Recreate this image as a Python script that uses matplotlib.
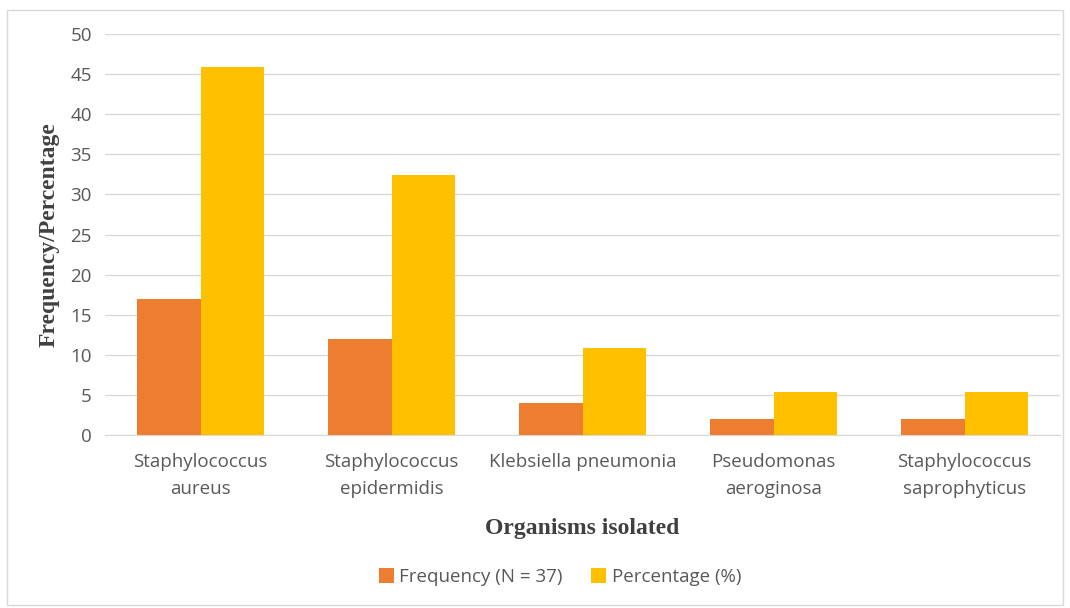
import matplotlib
matplotlib.use("Agg")
import matplotlib.pyplot as plt
from matplotlib.patches import Rectangle
import numpy as np

categories = ["Staphylococcus\naureus", "Staphylococcus\nepidermidis", "Klebsiella pneumonia",
              "Pseudomonas\naeroginosa", "Staphylococcus\nsaprophyticus"]
frequency = [17, 12, 4, 2, 2]
percentage = [45.9, 32.4, 10.8, 5.4, 5.4]
series_names = ["Frequency (N = 37)", "Percentage (%)"]
yticks = list(range(0, 55, 5))

plt.rcParams['font.family'] = ['Open Sans', 'DejaVu Sans']

fig = plt.figure(figsize=(10.7, 6.08), dpi=100)
fig.patches.append(Rectangle((7/1070, 3/608), 1056/1070, 595/608, transform=fig.transFigure,
                             fill=False, edgecolor='#d9d9d9', linewidth=1))
ax = fig.add_axes([105/1070, 1 - 435/608, (1060-105)/1070, (435-34)/608])

x = np.arange(len(categories))
w = 0.33
ax.bar(x - w/2, frequency, width=w, color='#ed7d31', label=series_names[0], zorder=3)
ax.bar(x + w/2, percentage, width=w, color='#ffc000', label=series_names[1], zorder=3)

ax.set_xlim(-0.5, len(categories) - 0.5)
ax.set_ylim(0, 50)
ax.set_yticks(yticks)
ax.yaxis.grid(True, color='#d9d9d9', linewidth=1, zorder=0)
ax.set_axisbelow(True)
for s in ['top', 'right', 'left']:
    ax.spines[s].set_visible(False)
ax.spines['bottom'].set_color('#d9d9d9')
ax.tick_params(axis='both', length=0, colors='#595959', labelsize=13.5)
ax.tick_params(axis='y', pad=9.5)
ax.tick_params(axis='x', pad=13)
ax.set_xticks(x)
ax.set_xticklabels(categories, linespacing=1.65)

ax.set_ylabel("Frequency/Percentage", family=['Liberation Serif'], fontweight='bold',
              fontsize=17, color='#404040')
ax.yaxis.set_label_coords(-45/955, 0.5)
ax.set_xlabel("Organisms isolated", family=['Liberation Serif'], fontweight='bold',
              fontsize=17, color='#404040')
ax.xaxis.set_label_coords(0.5, -(518-435)/401)

leg = fig.legend(loc='center', bbox_to_anchor=(560/1070, 1 - 577/608), ncol=2, frameon=False,
                 fontsize=13.5, handlelength=0.8, handleheight=0.8, handletextpad=0.3, columnspacing=1.5)
for t in leg.get_texts():
    t.set_color('#595959')

fig.savefig("out.png", dpi=100)
